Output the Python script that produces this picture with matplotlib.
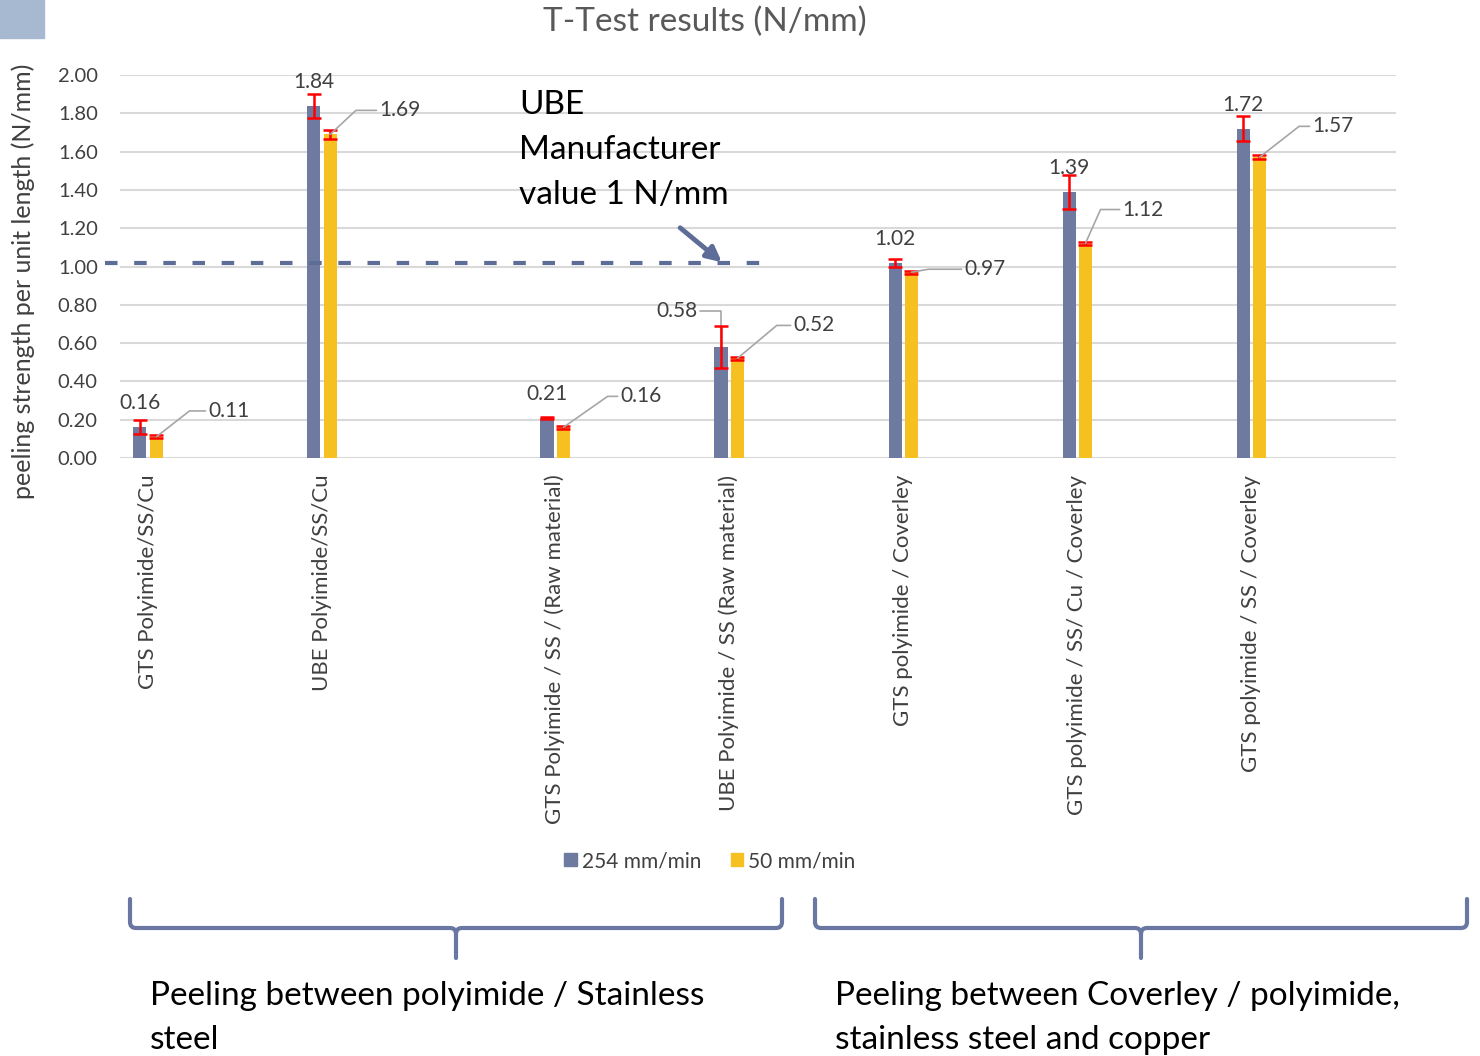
import numpy as np
import matplotlib
matplotlib.use("Agg")
import matplotlib.pyplot as plt
from matplotlib.path import Path
from matplotlib.patches import PathPatch, Rectangle, FancyArrowPatch

plt.rcParams['font.family'] = ['Lato', 'DejaVu Sans']

# === Data ===
categories = [
    "GTS Polyimide/SS/Cu",
    "UBE Polyimide/SS/Cu",
    "GTS Polyimide / SS / (Raw material)",
    "UBE Polyimide / SS (Raw material)",
    "GTS polyimide / Coverley",
    "GTS polyimide / SS/ Cu / Coverley",
    "GTS polyimide / SS / Coverley",
]
speed_254 = [0.16, 1.84, 0.21, 0.58, 1.02, 1.39, 1.72]
speed_50 = [0.11, 1.69, 0.16, 0.52, 0.97, 1.12, 1.57]
err_254 = [0.037, 0.063, 0.005, 0.11, 0.02, 0.09, 0.065]
err_50 = [0.008, 0.024, 0.007, 0.008, 0.008, 0.01, 0.01]
manufacturer_value = 1.02

# === Layout ===
W, H = 1480, 1056
group_pos = np.array([0, 1, 2.34, 3.34, 4.34, 5.34, 6.34])
bar_w = 0.075
shift = 0.047
blue = '#6F7AA0'
yellow = '#F6C120'
txt = '#404040'
brace_col = '#6B77A3'

# offsets (pixels) of the 50 mm/min labels from the bar top
lab50_off = [(52, 26), (49, 24), (57, 31), (56, 33), (53, 3), (37, 34), (53, 31)]
lab50_ang = [38, 43, 35, 40, 10, 66, 38]


def fpos(x, y):
    return x / W, 1 - y / H


fig = plt.figure(figsize=(W / 100, H / 100), dpi=100)
ax = fig.add_axes([120 / W, 1 - 458 / H, 1276 / W, 383 / H])

ax.bar(group_pos - shift, speed_254, bar_w, color=blue, zorder=3)
ax.bar(group_pos + shift, speed_50, bar_w, color=yellow, zorder=3)
ax.errorbar(group_pos - shift, speed_254, yerr=err_254, fmt='none', ecolor='red',
            elinewidth=1.8, capsize=5, capthick=1.8, zorder=4)
ax.errorbar(group_pos + shift, speed_50, yerr=err_50, fmt='none', ecolor='red',
            elinewidth=1.8, capsize=5, capthick=1.8, zorder=4)

ax.set_xlim(-0.161, 7.172)
ax.set_ylim(0, 2.0)
yt = np.arange(0, 2.01, 0.2)
ax.set_yticks(yt)
ax.set_yticklabels([f"{v:.2f}" for v in yt], fontsize=14.5, color=txt)
ax.set_xticks(group_pos)
ax.set_xticklabels(categories, rotation=90, fontsize=16, color=txt, va='top', ha='center')
ax.tick_params(axis='both', length=0)
ax.tick_params(axis='y', pad=16)
ax.tick_params(axis='x', pad=12)
ax.grid(axis='y', color='#d9d9d9', linewidth=1.5, zorder=0)
for s in ax.spines.values():
    s.set_visible(False)
ax.set_ylabel("peeling strength per unit length (N/mm)", fontsize=18, color=txt)
ax.yaxis.set_label_coords(-0.0666, 0.462)

# value labels, 254 mm/min
for i, (x, v) in enumerate(zip(group_pos - shift, speed_254)):
    if i == 3:
        ax.annotate(f"{v:.2f}", xy=(x, v), xytext=(-44, 36), textcoords='offset pixels',
                    ha='center', va='center', fontsize=15, color=txt,
                    arrowprops=dict(arrowstyle='-', color='#a6a6a6', lw=1.2, shrinkA=0, shrinkB=0,
                                    connectionstyle='angle,angleA=0,angleB=90,rad=0'))
    else:
        ax.annotate(f"{v:.2f}", xy=(x, v), xytext=(0, 24), textcoords='offset pixels',
                    ha='center', va='center', fontsize=15, color=txt)

# value labels, 50 mm/min with leader lines
for x, v, (dx, dy), a in zip(group_pos + shift, speed_50, lab50_off, lab50_ang):
    ax.annotate(f"{v:.2f}", xy=(x, v), xytext=(dx, dy), textcoords='offset pixels',
                ha='left', va='center', fontsize=15, color=txt, zorder=5,
                arrowprops=dict(arrowstyle='-', color='#a6a6a6', lw=1.2, shrinkA=0, shrinkB=0,
                                connectionstyle=f'angle,angleA=0,angleB={a},rad=0'))

# manufacturer reference line and arrow
ax.plot([-0.247, 3.546], [manufacturer_value, manufacturer_value], color='#5E6D98',
        lw=3, ls=(0, (3, 4)), clip_on=False, zorder=6)
fig.patches.append(FancyArrowPatch(
    fpos(678, 226), fpos(724, 264), transform=fig.transFigure, arrowstyle='-|>',
    mutation_scale=22, color='#5E6D98', lw=3.5))
fig.text(*fpos(519, 150), "UBE\nManufacturer\nvalue 1 N/mm", fontsize=24, color='black',
         ha='left', va='center', linespacing=1.62)

# title
fig.text(*fpos(705, 22), "T-Test results (N/mm)", fontsize=24, color='#595959', ha='center', va='center')

# legend
handles = [Rectangle((0, 0), 1, 1, color=blue), Rectangle((0, 0), 1, 1, color=yellow)]
fig.legend(handles, ["254 mm/min", "50 mm/min"], loc='center', bbox_to_anchor=fpos(710, 861),
           ncol=2, frameon=False, fontsize=15, handlelength=0.6, handleheight=0.6,
           handletextpad=0.25, columnspacing=1.4, labelcolor=txt)

# top-left decoration
fig.patches.append(Rectangle(fpos(0, 38), 44 / W, 38 / H, transform=fig.transFigure,
                             color='#A6B9D1'))


# braces
def brace(x0, x1, ytop, ybar, ytip, r=6):
    xm = (x0 + x1) / 2
    pts = [(x0, ytop), (x0, ybar - r), (x0, ybar), (x0 + r, ybar),
           (xm - r, ybar), (xm, ybar), (xm, ybar + r), (xm, ytip),
           (x1, ytop), (x1, ybar - r), (x1, ybar), (x1 - r, ybar),
           (xm + r, ybar), (xm, ybar), (xm, ybar + r)]
    codes = [Path.MOVETO, Path.LINETO, Path.CURVE3, Path.CURVE3,
             Path.LINETO, Path.CURVE3, Path.CURVE3, Path.LINETO,
             Path.MOVETO, Path.LINETO, Path.CURVE3, Path.CURVE3,
             Path.LINETO, Path.CURVE3, Path.CURVE3]
    pts = [fpos(px, py) for px, py in pts]
    fig.patches.append(PathPatch(Path(pts, codes), transform=fig.transFigure, fill=False,
                                 edgecolor=brace_col, lw=3, capstyle='round'))


brace(130, 782, 899, 928, 958)
brace(815, 1467, 899, 928, 958)

fig.text(*fpos(150, 1018), "Peeling between polyimide / Stainless\nsteel", fontsize=24,
         color='black', ha='left', va='center', linespacing=1.55)
fig.text(*fpos(835, 1018), "Peeling between Coverley / polyimide,\nstainless steel and copper",
         fontsize=24, color='black', ha='left', va='center', linespacing=1.55)

fig.savefig("out.png", dpi=100)
